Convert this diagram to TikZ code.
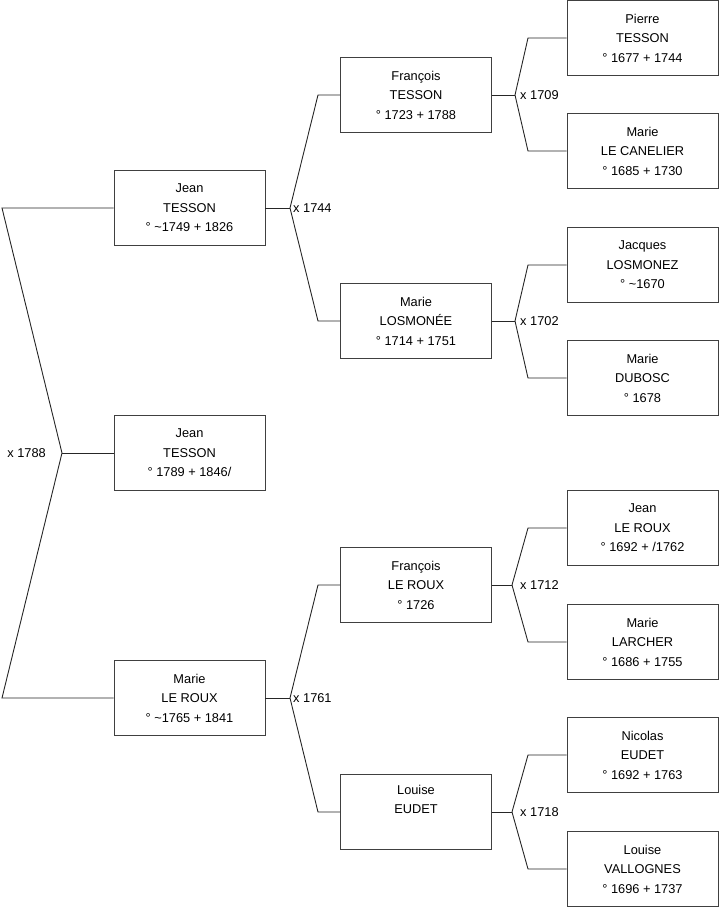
\documentclass[tikz,border=0pt]{standalone}
\usepackage{fontspec}
\setmainfont{Liberation Sans}
\usetikzlibrary{positioning}
\tikzset{
  person/.style={draw=black!75, line width=0.9pt, minimum width=151pt, minimum height=75pt,
    inner sep=0pt, align=center, font=\fontsize{12.8}{19.5}\selectfont},
  link/.style={draw=black!85, line width=0.9pt},
  wed/.style={font=\fontsize{12.8}{14}\selectfont, inner sep=0pt}
}
\begin{document}
\begin{tikzpicture}[x=1pt, y=-1pt]
  \useasboundingbox (0,0) rectangle (719,908);
  % root and parents
  \node[person] (p0) at (189.5,453) {Jean\\TESSON\\° 1789 + 1846/};
  \node[person] (f) at (189.5,208) {Jean\\TESSON\\° \textasciitilde1749 + 1826};
  \node[person] (m) at (189.5,698) {Marie\\LE ROUX\\° \textasciitilde1765 + 1841};
  % grandparents
  \node[person] (ff) at (416,95) {François\\TESSON\\° 1723 + 1788};
  \node[person] (fm) at (416,321) {Marie\\LOSMONÉE\\° 1714 + 1751};
  \node[person] (mf) at (416,585) {François\\LE ROUX\\° 1726};
  \node[person] (mm) at (416,812) {Louise\\EUDET\\\strut};
  % great-grandparents
  \node[person] (fff) at (642.5,38) {Pierre\\TESSON\\° 1677 + 1744};
  \node[person] (ffm) at (642.5,151) {Marie\\LE CANELIER\\° 1685 + 1730};
  \node[person] (fmf) at (642.5,265) {Jacques\\LOSMONEZ\\° \textasciitilde1670};
  \node[person] (fmm) at (642.5,378) {Marie\\DUBOSC\\° 1678};
  \node[person] (mff) at (642.5,528) {Jean\\LE ROUX\\° 1692 + /1762};
  \node[person] (mfm) at (642.5,642) {Marie\\LARCHER\\° 1686 + 1755};
  \node[person] (mmf) at (642.5,755) {Nicolas\\EUDET\\° 1692 + 1763};
  \node[person] (mmm) at (642.5,869) {Louise\\VALLOGNES\\° 1696 + 1737};

  % columns of the corners
  \coordinate (colA) at (2,0);
  \coordinate (colB) at (318,0);
  \coordinate (colC) at (528,0);

  % marriages
  \coordinate (w1788) at (62,453);
  \coordinate (w1744) at (290,208);
  \coordinate (w1761) at (290,698);
  \coordinate (w1709) at (515,95);
  \coordinate (w1702) at (515,321);
  \coordinate (w1712) at (512,585);
  \coordinate (w1718) at (512,812);
  \node[wed, anchor=east] (t1788) at (46,453) {x 1788};
  \node[wed, anchor=west] (t1744) at (293,208) {x 1744};
  \node[wed, anchor=west] (t1761) at (293,698) {x 1761};
  \node[wed, anchor=west] (t1709) at (520,95) {x 1709};
  \node[wed, anchor=west] (t1702) at (520,321) {x 1702};
  \node[wed, anchor=west] (t1712) at (520,585) {x 1712};
  \node[wed, anchor=west] (t1718) at (520,812) {x 1718};

  % links
  \draw[link] (p0.west) -- (w1788);
  \draw[link] (f.west) -- (f.west -| colA) -- (w1788) -- (m.west -| colA) -- (m.west);
  \draw[link] (f.east) -- (w1744);
  \draw[link] (ff.west) -- (ff.west -| colB) -- (w1744) -- (fm.west -| colB) -- (fm.west);
  \draw[link] (m.east) -- (w1761);
  \draw[link] (mf.west) -- (mf.west -| colB) -- (w1761) -- (mm.west -| colB) -- (mm.west);
  \draw[link] (ff.east) -- (w1709);
  \draw[link] (fff.west) -- (fff.west -| colC) -- (w1709) -- (ffm.west -| colC) -- (ffm.west);
  \draw[link] (fm.east) -- (w1702);
  \draw[link] (fmf.west) -- (fmf.west -| colC) -- (w1702) -- (fmm.west -| colC) -- (fmm.west);
  \draw[link] (mf.east) -- (w1712);
  \draw[link] (mff.west) -- (mff.west -| colC) -- (w1712) -- (mfm.west -| colC) -- (mfm.west);
  \draw[link] (mm.east) -- (w1718);
  \draw[link] (mmf.west) -- (mmf.west -| colC) -- (w1718) -- (mmm.west -| colC) -- (mmm.west);
\end{tikzpicture}
\end{document}
